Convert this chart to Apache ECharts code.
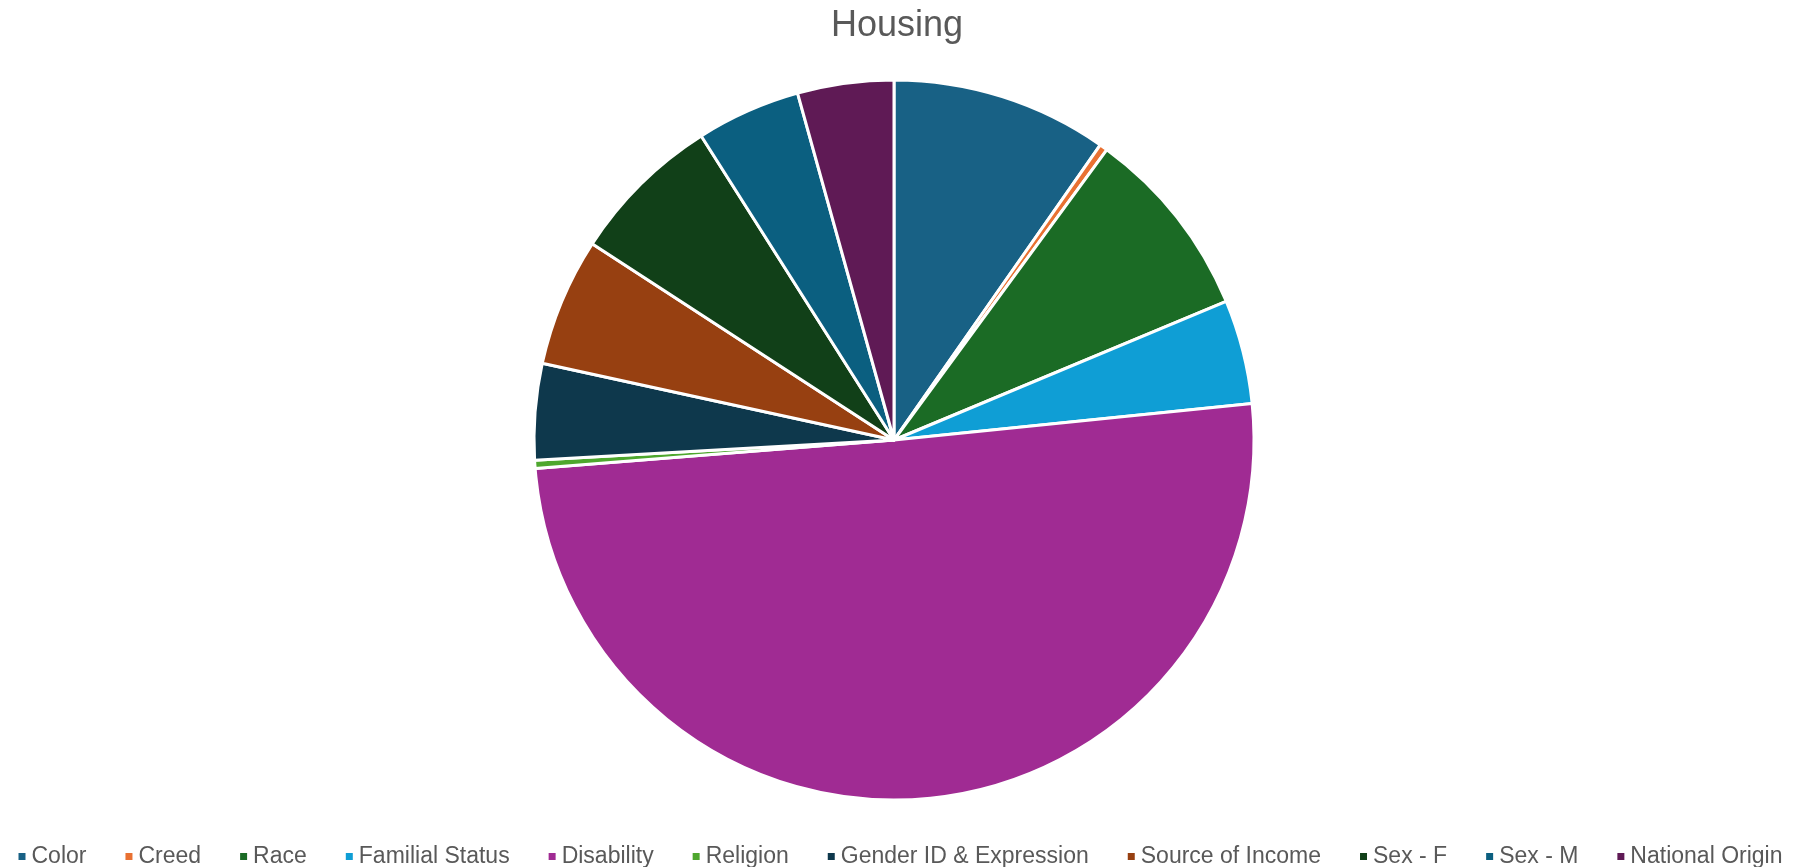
<!DOCTYPE html>
<html>
<head>
<meta charset="utf-8">
<script src="https://cdn.jsdelivr.net/npm/echarts@6/dist/echarts.min.js"></script>
<style>
  html, body { margin: 0; padding: 0; background: #ffffff; }
  #chart { width: 1799px; height: 867px; }
</style>
</head>
<body>
<div id="chart"></div>
<script>
// Housing complaints by basis
const categories = ['Color', 'Creed', 'Race', 'Familial Status', 'Disability', 'Religion',
  'Gender ID & Expression', 'Source of Income', 'Sex - F', 'Sex - M', 'National Origin'];
const counts = [27, 1, 24, 13, 140, 1, 12, 16, 19, 13, 12];
const sliceColors = ['#186185', '#E97132', '#1B6B25', '#0F9ED5', '#A02B93', '#4EA72E',
  '#0E384C', '#974011', '#114018', '#0B5F80', '#5F1A55'];

const FONT = '"Liberation Sans", Arial, sans-serif';

const chart = echarts.init(document.getElementById('chart'), null, { renderer: 'canvas' });
chart.setOption({
  animation: false,
  backgroundColor: '#ffffff',
  color: sliceColors,
  title: {
    text: 'Housing',
    left: 826,
    top: 3,
    textStyle: { fontFamily: FONT, fontSize: 36, fontWeight: 'normal', color: '#595959' }
  },
  legend: {
    top: 840,
    left: 'center',
    icon: 'rect',
    itemWidth: 9,
    itemHeight: 9,
    itemGap: 37,
    textStyle: { fontFamily: FONT, fontSize: 23, color: '#595959' },
    data: categories
  },
  series: [{
    type: 'pie',
    center: [894, 440],
    radius: [0, 360],
    startAngle: 90,
    clockwise: true,
    label: { show: false },
    labelLine: { show: false },
    emphasis: { disabled: true },
    itemStyle: { borderColor: '#ffffff', borderWidth: 3 },
    data: categories.map((name, i) => ({ name, value: counts[i] }))
  }]
});
</script>
</body>
</html>
